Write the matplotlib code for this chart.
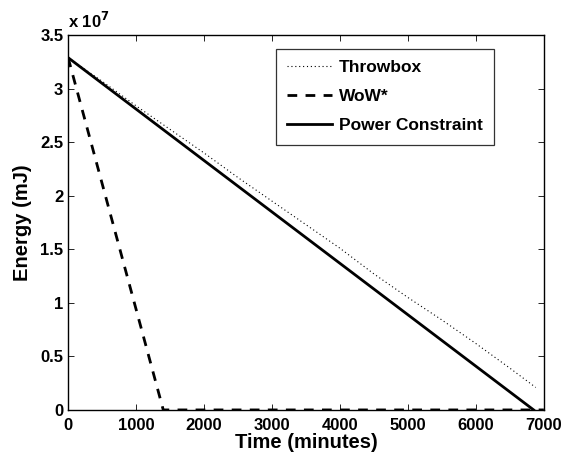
import matplotlib.pyplot as plt
from matplotlib.ticker import FuncFormatter, MultipleLocator

plt.rcParams['font.family'] = ['Liberation Sans', 'DejaVu Sans']
plt.rcParams['font.weight'] = 'bold'

# data (energy in mJ, time in minutes)
throwbox_t = [0, 500, 1000, 1500, 2000, 2500, 3000, 3500, 4000, 4500, 5000, 5500, 6000, 6500, 6880]
throwbox_e = [3.29e7, 3.07e7, 2.84e7, 2.62e7, 2.40e7, 2.17e7, 1.95e7, 1.73e7, 1.51e7, 1.27e7,
              1.05e7, 0.84e7, 0.62e7, 0.39e7, 0.21e7]
wow_t = [0, 1400, 7000]
wow_e = [3.29e7, 0, 0]
power_t = [0, 6850]
power_e = [3.29e7, 0]

fig = plt.figure(figsize=(5.63, 4.57), dpi=100)
ax = fig.add_axes([0.121, 0.103, 0.845, 0.820])

ax.plot(throwbox_t, throwbox_e, color='black', lw=0.8, linestyle=(0, (1, 2.5)), label='Throwbox')
ax.plot(wow_t, wow_e, color='black', lw=2, linestyle=(0, (3.5, 3)), label='WoW*')
ax.plot(power_t, power_e, color='black', lw=2, label='Power Constraint')

ax.set_xlim(0, 7000)
ax.set_ylim(0, 3.5e7)
ax.xaxis.set_major_locator(MultipleLocator(1000))
ax.yaxis.set_major_locator(MultipleLocator(0.5e7))
ax.yaxis.set_major_formatter(FuncFormatter(lambda v, p: f"{v / 1e7:g}"))
ax.tick_params(direction='in', top=True, right=True, labelsize=12, length=4, width=0.6)
ax.tick_params(axis='x', pad=6)
for s in ax.spines.values():
    s.set_linewidth(1.0)

ax.set_xlabel('Time (minutes)', fontsize=14.5, fontweight='bold', labelpad=0)
ax.set_ylabel('Energy (mJ)', fontsize=14.5, fontweight='bold', labelpad=6)
ax.text(0.0, 1.012, r'x 10$^{7}$', transform=ax.transAxes, fontsize=12, fontweight='bold',
        ha='left', va='bottom')

leg = ax.legend(loc='upper left', bbox_to_anchor=(0.418, 0.987), fontsize=12.5, frameon=True,
                fancybox=False, edgecolor='black', handlelength=2.6, labelspacing=0.8,
                borderpad=0.65, handletextpad=0.4)
leg.get_frame().set_linewidth(0.9)
for t in leg.get_texts():
    t.set_fontweight('bold')

fig.savefig('out.png', dpi=100)
